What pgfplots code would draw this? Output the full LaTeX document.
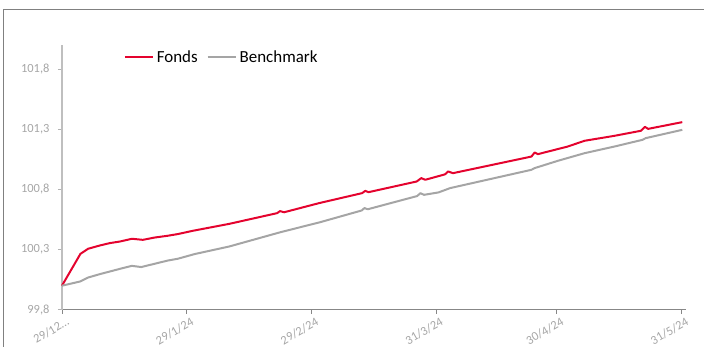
\documentclass[border=0pt]{standalone}
\usepackage{pgfplots}
\pgfplotsset{compat=1.18}
\usepackage{fontspec}
\setmainfont{Carlito}
\definecolor{fondsred}{HTML}{E4032E}
\definecolor{benchgrey}{HTML}{A5A5A5}
\definecolor{labgrey}{HTML}{A6A6A6}
\begin{document}
\begin{tikzpicture}
\begin{axis}[
  at={(0,0)}, anchor=south west,
  scale only axis,
  width=624bp, height=265bp,
  xmin=0, xmax=155,
  ymin=99.8, ymax=102.0,
  axis x line*=bottom, axis y line*=left,
  x axis line style={color=black!47, line width=1.1bp, -},
  y axis line style={color=black!25, line width=1.1bp, -},
  xtick={0,31,62,93,123,154},
  xticklabels={29/12\ldots,29/1/24,29/2/24,31/3/24,30/4/24,31/5/24},
  ytick={99.8,100.3,100.8,101.3,101.8},
  yticklabels={{99,8},{100,3},{100,8},{101,3},{101,8}},
  tick align=outside,
  major tick length=4bp,
  xtick style={color=black!47, line width=0.8bp},
  ytick style={color=black!30, line width=0.8bp},
  ticklabel style={font=\fontsize{12.5}{14}\selectfont, color=labgrey},
  xticklabel style={rotate=30, anchor=north east, xshift=5bp, yshift=-1bp},
  yticklabel style={xshift=-5bp},
  clip=false,
  legend columns=2,
  legend style={draw=none, fill=none, at={(0.099,0.955)}, anchor=west,
    font=\fontsize{17}{19}\selectfont, inner xsep=0pt, inner ysep=0pt,
    nodes={inner xsep=3bp},
    /tikz/every even column/.append style={column sep=6bp}},
  legend image code/.code={\draw[#1] (0bp,0bp) -- (28bp,0bp);},
]
\addplot[color=fondsred, line width=2bp, line join=round] coordinates {
(0,100.0) (4.6,100.265) (6.5,100.307) (9.4,100.334) (11.9,100.354)
(14.4,100.367) (17.4,100.390) (20.1,100.381) (23,100.400) (26.3,100.415)
(28.8,100.429) (32.5,100.456) (41.6,100.514) (53.5,100.603) (54.2,100.620)
(55.2,100.610) (63.9,100.686) (74.6,100.769) (75.4,100.788) (76.2,100.777)
(88.2,100.866) (89.3,100.894) (90.3,100.880) (95.2,100.925) (96.0,100.949)
(97.2,100.935) (116.7,101.073) (117.5,101.107) (118.3,101.093) (125.7,101.156)
(129.9,101.204) (137.3,101.245) (143.9,101.287) (144.9,101.320) (145.7,101.303)
(154.2,101.359)
};
\addlegendentry{Fonds}
\addplot[color=benchgrey, line width=2bp, line join=round] coordinates {
(0,100.0) (4.5,100.035) (6.5,100.068) (9.4,100.096) (11.9,100.118)
(14.4,100.140) (17.4,100.165) (19.7,100.155) (23,100.182) (26.3,100.209)
(28.8,100.224) (33,100.263) (41.6,100.326) (53.5,100.437) (54.7,100.448)
(63.9,100.525) (74.5,100.625) (75.2,100.645) (76.0,100.635) (88.3,100.745)
(89.1,100.769) (90.0,100.755) (93.6,100.775) (96.5,100.811) (116.7,100.963)
(117.5,100.977) (123.3,101.038) (129.9,101.101) (137.3,101.156) (144.3,101.212)
(145.1,101.226) (154.2,101.295)
};
\addlegendentry{Benchmark}
\end{axis}
\draw[color=black!50, line width=1bp] (-58bp,-37bp) -- (-58bp,300bp) -- (642bp,300bp);
\useasboundingbox (-62bp,-37bp) rectangle (642bp,310bp);
\end{tikzpicture}
\end{document}
